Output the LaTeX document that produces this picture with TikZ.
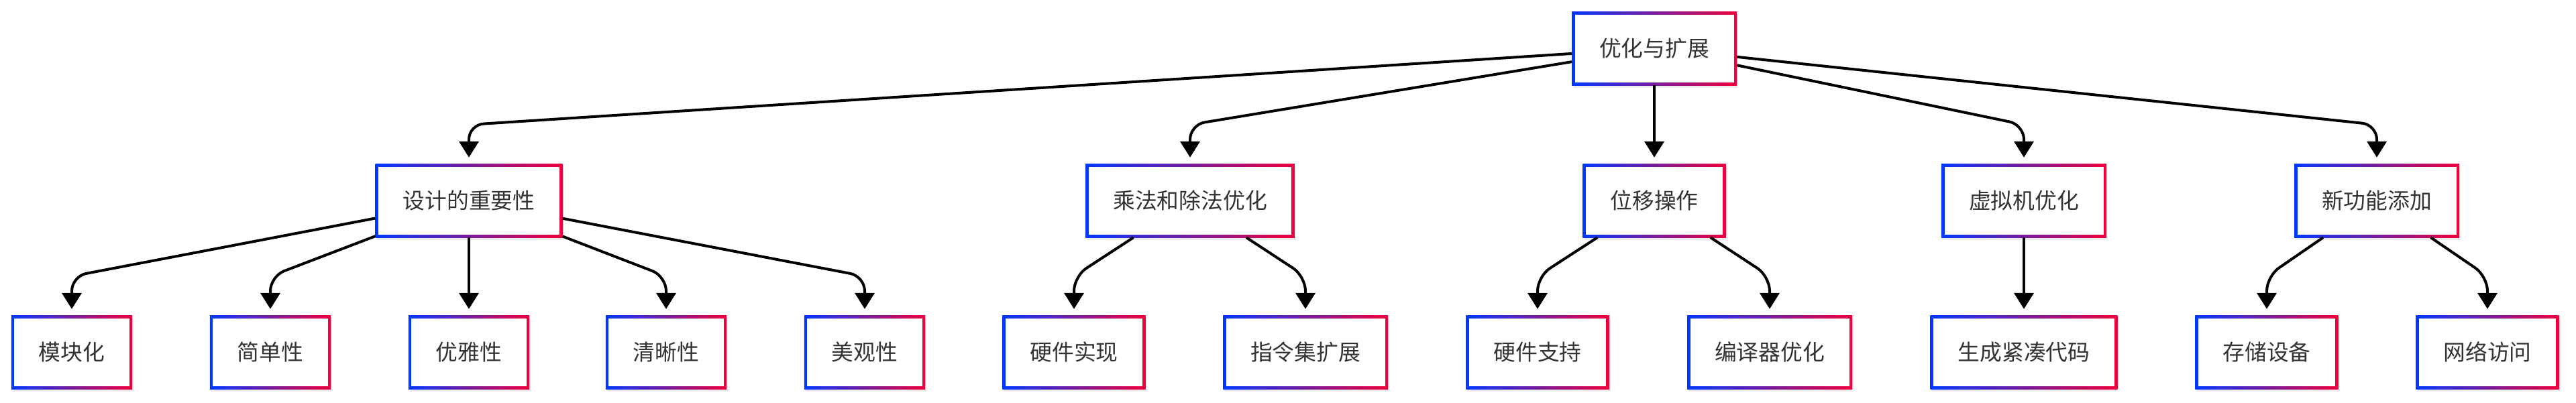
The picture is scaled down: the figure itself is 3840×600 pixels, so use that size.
\documentclass[tikz,border=0pt]{standalone}
\usepackage{fontspec}
\newfontfamily\cjk{Noto Sans CJK SC}
\usetikzlibrary{arrows.meta}
\definecolor{gblue}{RGB}{0,56,255}
\definecolor{gred}{RGB}{240,0,60}
\definecolor{txt}{RGB}{51,51,51}
\tikzset{
  box/.style={rectangle, left color=gblue, right color=gred,
    minimum height=110pt, inner xsep=41pt, inner ysep=0pt,
    font=\cjk\fontsize{32.8}{40}\selectfont, text=txt,
    preaction={fill=black, opacity=0.07, transform canvas={shift={(2pt,-4pt)}}},
    path picture={\fill[white] ([shift={(4.5pt,-4.5pt)}]path picture bounding box.north west)
      rectangle ([shift={(-4.5pt,4.5pt)}]path picture bounding box.south east);}},
  link/.style={line width=4pt, rounded corners=22pt,
    -{Triangle[length=24pt,width=29pt]}, shorten >=9pt}
}
\begin{document}
\begin{tikzpicture}[x=1pt,y=-1pt]
\useasboundingbox (0,0) rectangle (3840,600);
% level 1
\node[box] (root) at (2466,72) {优化与扩展};
% level 2
\node[box] (a) at (699,299) {设计的重要性};
\node[box] (b) at (1774,299) {乘法和除法优化};
\node[box] (c) at (2466,299) {位移操作};
\node[box] (d) at (3017,299) {虚拟机优化};
\node[box] (e) at (3543,299) {新功能添加};
% level 3
\node[box] (a1) at (107,525) {模块化};
\node[box] (a2) at (403,525) {简单性};
\node[box] (a3) at (699,525) {优雅性};
\node[box] (a4) at (993,525) {清晰性};
\node[box] (a5) at (1289,525) {美观性};
\node[box] (b1) at (1601,525) {硬件实现};
\node[box] (b2) at (1946,525) {指令集扩展};
\node[box] (c1) at (2292,525) {硬件支持};
\node[box] (c2) at (2638,525) {编译器优化};
\node[box] (d1) at (3017,525) {生成紧凑代码};
\node[box] (e1) at (3379,525) {存储设备};
\node[box] (e2) at (3708,525) {网络访问};
% connectors root -> level 2
\draw[link] (root) -- (699,186) -- (a.north);
\draw[link] (root) -- (1774,186) -- (b.north);
\draw[link] (root) -- (c.north);
\draw[link] (root) -- (3017,186) -- (d.north);
\draw[link] (root) -- (3543,186) -- (e.north);
% level 2 -> level 3
\draw[link] (a) -- (107,412) -- (a1.north);
\draw[link] (a) -- (403,412) -- (a2.north);
\draw[link] (a) -- (a3.north);
\draw[link] (a) -- (993,412) -- (a4.north);
\draw[link] (a) -- (1289,412) -- (a5.north);
\draw[link] (b) -- (1601,412) -- (b1.north);
\draw[link] (b) -- (1946,412) -- (b2.north);
\draw[link] (c) -- (2292,412) -- (c1.north);
\draw[link] (c) -- (2638,412) -- (c2.north);
\draw[link] (d) -- (d1.north);
\draw[link] (e) -- (3379,412) -- (e1.north);
\draw[link] (e) -- (3708,412) -- (e2.north);
\end{tikzpicture}
\end{document}
